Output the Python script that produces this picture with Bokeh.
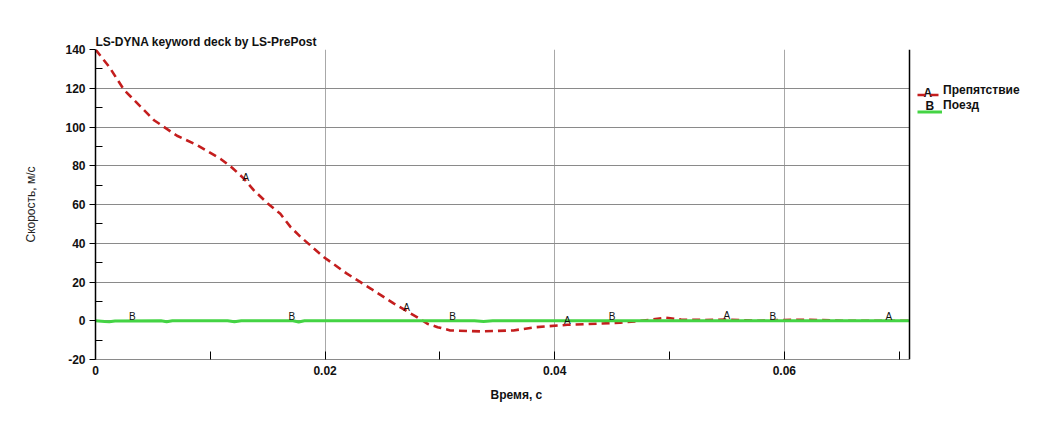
import numpy as np
from bokeh.plotting import figure
from bokeh.models import (Legend, LegendItem, FixedTicker, Span, Label, Title,
                          ColumnDataSource, Range1d)
from bokeh.embed import file_html
from bokeh.resources import INLINE
from bokeh.core.properties import value

# ---------------- data ----------------
title_text = "LS-DYNA keyword deck by LS-PrePost"
x_label = "Время, с"
y_label = "Скорость, м/с"
series_names = ["Препятствие", "Поезд"]
series_letters = ["A", "B"]

# Curve A: Препятствие (obstacle) velocity, m/s
t_a = [0, 0.0012, 0.0025, 0.0031, 0.0051, 0.0071, 0.0089, 0.0109, 0.0119, 0.0129,
       0.0138, 0.0150, 0.0161, 0.0170, 0.0179, 0.0199, 0.0219, 0.0240, 0.0260, 0.0280,
       0.0289, 0.0298, 0.0309, 0.0335, 0.0364, 0.0384, 0.0411, 0.0437, 0.0457, 0.0470,
       0.0483, 0.0497, 0.0510, 0.0530, 0.0550, 0.0575, 0.0600, 0.0622, 0.0650, 0.0709]
v_a = [140, 131, 119, 115.5, 103.5, 95.5, 90.5, 83.5, 79, 73.5,
       67.3, 60.5, 55.2, 48.3, 43.1, 32.8, 24.3, 16.5, 8.8, 1.9,
       -1.5, -3.3, -5.0, -5.5, -5.0, -3.3, -2.1, -1.5, -1.0, -0.3,
       0.5, 1.6, 0.6, 0.4, 0.6, 0.0, 0.4, 0.5, 0.0, 0.0]

# Curve B: Поезд (train) velocity, m/s
t_b = [0, 0.0008, 0.0012, 0.0017, 0.0057, 0.0062, 0.0067, 0.0115, 0.0121, 0.0127,
       0.0172, 0.0177, 0.0182, 0.0330, 0.0338, 0.0346, 0.0709]
v_b = [0, -0.4, -0.5, -0.1, 0, -0.5, 0, 0, -0.5, 0,
       0, -0.6, 0, 0, -0.4, 0, 0]

# positions (time) of the curve-identifier letters
mark_t_a = [0.0131, 0.0271, 0.0411, 0.0550, 0.0691]
mark_t_b = [0.0032, 0.0171, 0.0311, 0.0450, 0.0590]

x_ticks = [0, 0.02, 0.04, 0.06]
x_tick_labels = ["0", "0.02", "0.04", "0.06"]
x_minor = [0.01, 0.03, 0.05, 0.07]
y_ticks = [-20, 0, 20, 40, 60, 80, 100, 120, 140]
y_tick_labels = ["-20", "0", "20", "40", "60", "80", "100", "120", "140"]
y_minor = [-10, 10, 30, 50, 70, 90, 110, 130]
x_lim = (0, 0.0709)
y_lim = (-20, 140)

# ---------------- layout / style ----------------
FONT = "Liberation Sans"
RED = "#c41e1e"
GREEN = "#44d444"
NB = "\u00a0"
W, H = 1027, 416
LEFT, TOP, RIGHT, BOTTOM = 95, 49, 2, 57
FRAME_W = W - LEFT - RIGHT          # frame also hosts the legend area
PLOT_W = 814                        # width of the data (plotting) area
x_view_end = x_lim[1] * FRAME_W / PLOT_W

p = figure(width=W, height=H, output_backend="svg", toolbar_location=None,
           x_range=Range1d(x_lim[0], x_view_end), y_range=Range1d(*y_lim),
           min_border_left=LEFT, min_border_top=TOP, min_border_right=RIGHT,
           min_border_bottom=BOTTOM, background_fill_color="white",
           border_fill_color="white")
p.outline_line_color = None

p.title.text = title_text
p.title.text_font = FONT
p.title.text_font_size = "12px"
p.title.text_font_style = "bold"
p.title.text_color = "#111111"
p.title.standoff = 2
p.title.offset = 0

# grids (limited to the data area)
p.xgrid.ticker = FixedTicker(ticks=x_ticks)
p.ygrid.ticker = FixedTicker(ticks=y_ticks)
p.xgrid.grid_line_color = "#a8a8a8"
p.ygrid.grid_line_color = "#8a8a8a"
p.xgrid.grid_line_width = 1
p.ygrid.grid_line_width = 1
p.ygrid.cross_bounds = x_lim

# x axis
xa = p.xaxis[0]
xa.bounds = x_lim
xa.ticker = FixedTicker(ticks=x_ticks, minor_ticks=x_minor)
xa.major_label_overrides = {t: l for t, l in zip(x_ticks, x_tick_labels)}
xa.axis_line_color = "#8a8a8a"
xa.major_tick_in = 8
xa.major_tick_out = 0
xa.minor_tick_in = 8
xa.minor_tick_out = 0
xa.major_tick_line_color = "black"
xa.minor_tick_line_color = "black"
xa.major_label_standoff = 6
xa.major_label_text_font = FONT
xa.major_label_text_font_size = "12px"
xa.major_label_text_font_style = "bold"
xa.major_label_text_color = "#111111"

# x-axis caption (offset along the axis like the original)
p.add_layout(Title(text=x_label, align="left", offset=395, standoff=17,
                   text_font=FONT, text_font_size="12px", text_font_style="bold",
                   text_color="#111111"), "below")

# y axis
ya = p.yaxis[0]
ya.ticker = FixedTicker(ticks=y_ticks, minor_ticks=y_minor)
ya.major_label_overrides = {t: l for t, l in zip(y_ticks, y_tick_labels)}
ya.axis_line_color = "black"
ya.axis_line_width = 1.5
ya.major_tick_in = 0
ya.major_tick_out = 6
ya.minor_tick_in = 7
ya.minor_tick_out = 0
ya.major_tick_line_color = "black"
ya.minor_tick_line_color = "black"
ya.major_label_standoff = 4
ya.major_label_text_font = FONT
ya.major_label_text_font_size = "12px"
ya.major_label_text_font_style = "bold"
ya.major_label_text_color = "#111111"
ya.axis_label = y_label
ya.axis_label_text_font = FONT
ya.axis_label_text_font_size = "12px"
ya.axis_label_text_font_style = "normal"
ya.axis_label_text_color = "#222222"
ya.axis_label_standoff = 24

# right border of the data area at the end of the x range
p.add_layout(Span(location=x_lim[1], dimension="height", line_color="black",
                  line_width=1.5))

# curves
src_a = ColumnDataSource(dict(t=t_a, v=v_a))
src_b = ColumnDataSource(dict(t=t_b, v=v_b))
r_a = p.line("t", "v", source=src_a, line_color=RED, line_width=2.6,
             line_dash="8 5")
r_b = p.line("t", "v", source=src_b, line_color=GREEN, line_width=3)

# letter markers on the curves
ma = ColumnDataSource(dict(t=mark_t_a, v=np.interp(mark_t_a, t_a, v_a),
                           s=[series_letters[0]] * len(mark_t_a)))
mb = ColumnDataSource(dict(t=mark_t_b, v=np.interp(mark_t_b, t_b, v_b),
                           s=[series_letters[1]] * len(mark_t_b)))
text_renderers = []
for src in (ma, mb):
    text_renderers.append(
        p.text("t", "v", text="s", source=src, text_font=value(FONT),
               text_font_size="10px", text_color="#111111", text_align="center",
               text_baseline="middle", y_offset=-4))

# legend: line samples (with the curve letters above them) ...
leg_lines = Legend(items=[LegendItem(label=NB, renderers=[r_a]),
                          LegendItem(label=NB, renderers=[r_b])],
                   location=(PLOT_W + 8, 240), glyph_width=25, glyph_height=15,
                   label_height=15, label_standoff=0, spacing=2, padding=0,
                   margin=0, border_line_color=None, background_fill_alpha=0,
                   label_text_font_size="12px")
p.add_layout(leg_lines)

for i, letter in enumerate(series_letters):
    p.add_layout(Label(x=PLOT_W + 14 + 2 * i, y=267 - 13 * i, x_units="screen",
                       y_units="screen", text=letter, text_font=FONT,
                       text_font_size="12px", text_font_style="bold",
                       text_color="#111111", text_baseline="middle"))

# ... and the series names
leg_names = Legend(items=[LegendItem(label=series_names[0], renderers=[text_renderers[0]]),
                          LegendItem(label=series_names[1], renderers=[text_renderers[1]])],
                   location=(PLOT_W + 34, 247), glyph_width=0, glyph_height=12,
                   label_height=12, label_standoff=0, spacing=1, padding=0,
                   margin=0, border_line_color=None, background_fill_alpha=0,
                   label_text_font=FONT, label_text_font_size="12px",
                   label_text_font_style="bold", label_text_color="#111111")
p.add_layout(leg_names)

open("out.html", "w").write(file_html(p, INLINE))
